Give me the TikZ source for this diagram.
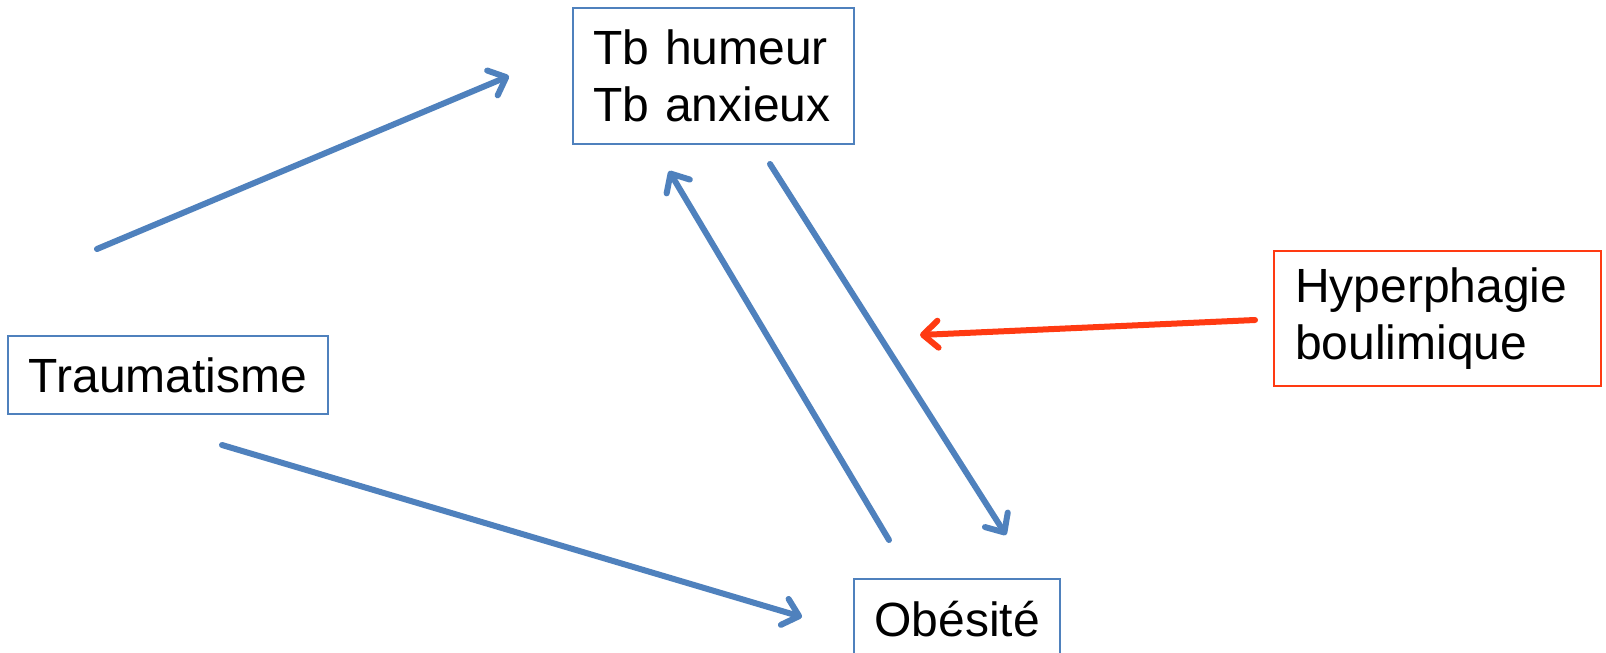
\documentclass[tikz,border=0pt]{standalone}
\usepackage{fontspec}
\setmainfont{Liberation Sans}
\usetikzlibrary{arrows.meta}
\definecolor{bl}{HTML}{4F81BD}
\definecolor{rd}{HTML}{FF3A12}
\tikzset{
  box/.style={draw=bl, line width=1.8pt, inner sep=0pt, align=left,
    font=\fontsize{48}{57}\selectfont},
  conn/.style={draw=bl, line width=6pt, line cap=round,
    -{Straight Barb[length=15pt,width=27pt,line width=6pt,round]}},
}
\begin{document}
\begin{tikzpicture}[x=1pt,y=-1pt]
\useasboundingbox (0,0) rectangle (1606,653);
\clip (0,0) rectangle (1606,653);
\fill[white] (0,0) rectangle (1606,653);
\node[box, minimum width=281pt, minimum height=136pt, text width=241pt] (tb) at (713.5,76) {Tb humeur\\Tb anxieux};
\node[box, minimum width=320pt, minimum height=78pt] (tr) at (168,375) {Traumatisme};
\node[box, minimum width=206pt, minimum height=80pt] (ob) at (957,619) {Obésité};
\node[box, draw=rd, minimum width=327pt, minimum height=135pt, text width=285pt] (hy) at (1437.5,318.5) {Hyperphagie\\boulimique};
\coordinate (a1) at (97,249);
\coordinate (a1e) at (509,76);
\coordinate (a2) at (222,445);
\coordinate (a2e) at (802,617);
\coordinate (a3) at (889,540);
\coordinate (a3e) at (669,171);
\coordinate (a4) at (770,164);
\coordinate (a4e) at (1006,535);
\coordinate (a5) at (1255,320);
\coordinate (a5e) at (920,335);
\draw[conn] (a1) -- (a1e);
\draw[conn] (a2) -- (a2e);
\draw[conn] (a3) -- (a3e);
\draw[conn] (a4) -- (a4e);
\draw[conn, draw=rd] (a5) -- (a5e);
\end{tikzpicture}
\end{document}
